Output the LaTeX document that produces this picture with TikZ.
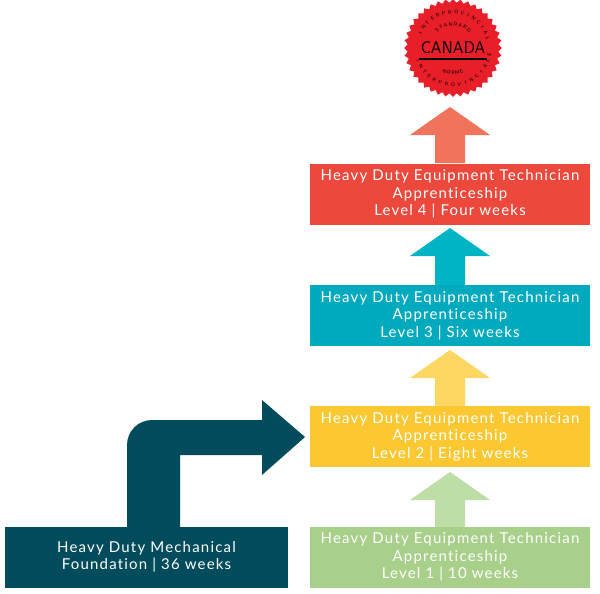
\documentclass[tikz,border=0pt]{standalone}
\usepackage{fontspec}
\setmainfont{Lato}
\usetikzlibrary{shapes.geometric,positioning}
\definecolor{lvA}{RGB}{168,208,138}
\definecolor{lvAarr}{RGB}{190,222,168}
\definecolor{lvB}{RGB}{252,200,50}
\definecolor{lvBarr}{RGB}{253,214,100}
\definecolor{lvC}{RGB}{0,170,190}
\definecolor{lvCarr}{RGB}{0,180,196}
\definecolor{lvD}{RGB}{236,72,60}
\definecolor{lvDarr}{RGB}{240,115,92}
\definecolor{found}{RGB}{0,76,92}
\definecolor{seal}{RGB}{232,30,40}
\tikzset{
  lvbox/.style={draw=none,minimum width=280pt,minimum height=61pt,align=center,text=white,font=\fontsize{15}{17.5}\selectfont\addfontfeature{LetterSpace=8,Ligatures=NoCommon}},
  sealtxt/.style={font=\sffamily\fontsize{5}{5}\selectfont,inner sep=0pt},
}
\newcommand{\uparr}[3]{% color, tip y, base y
  \fill[#1] (410,#2+28) -- (450,#2) -- (490,#2+28) -- (465,#2+28) -- (465,#3) -- (435,#3) -- (435,#2+28) -- cycle;}
\begin{document}
\begin{tikzpicture}[x=1pt,y=-1pt,line join=round]
\useasboundingbox (0,0) rectangle (600,594);
% arrows
\uparr{lvAarr}{472}{527}
\uparr{lvBarr}{350}{406}
\uparr{lvCarr}{228}{285}
\uparr{lvDarr}{107}{163}
% bent arrow
\fill[found] (127,527) -- (127,445) arc[start angle=180,end angle=270,radius=25] -- (262,420) -- (262,400) -- (305,437) -- (262,475) -- (262,455) -- (180,455) -- (180,527) -- cycle;
% boxes
\node[lvbox,fill=lvA] (lev1) at (450,557) {Heavy Duty Equipment Technician\\Apprenticeship\\Level 1 | 10 weeks};
\node[lvbox,fill=lvB] (lev2) at (450,436.5) {Heavy Duty Equipment Technician\\Apprenticeship\\Level 2 | Eight weeks};
\node[lvbox,fill=lvC] (lev3) at (450,315.5) {Heavy Duty Equipment Technician\\Apprenticeship\\Level 3 | Six weeks};
\node[lvbox,fill=lvD] (lev4) at (450,194) {Heavy Duty Equipment Technician\\Apprenticeship\\Level 4 | Four weeks};
\node[lvbox,fill=found,minimum width=283pt] (base) at (146.5,557) {Heavy Duty Mechanical\\Foundation | 36 weeks};
% seal
\node[star,star points=40,star point ratio=1.08,fill=seal,minimum size=98pt,inner sep=0pt] (sealA) at (453,48) {};
\node[font=\sffamily\fontsize{17}{17}\selectfont,inner sep=0pt] (canada) at (453,48) {CANADA};
\draw[line width=1.3pt] (419,59) -- (487,59);
\foreach \ch [count=\k] in {S,T,A,N,D,A,R,D}{
  \node[sealtxt,rotate=(144-\k*12)-90] (s\k) at ({453+24*cos(144-\k*12)},{48-24*sin(144-\k*12)}) {\ch};}
\foreach \ch [count=\k] in {I,N,T,E,R,P,R,O,V,I,N,C,I,A,L}{
  \node[sealtxt,rotate=(165-\k*10)-90] (u\k) at ({453+36*cos(165-\k*10)},{48-36*sin(165-\k*10)}) {\ch};}
\foreach \ch [count=\k] in {N,O,R,M,E}{
  \node[sealtxt,rotate=(240+\k*10)+90] (n\k) at ({453+25*cos(240+\k*10)},{48-25*sin(240+\k*10)}) {\ch};}
\foreach \ch [count=\k] in {I,N,T,E,R,P,R,O,V,I,N,C,I,A,L,E}{
  \node[sealtxt,rotate=(190+\k*10)+90] (v\k) at ({453+37*cos(190+\k*10)},{48-37*sin(190+\k*10)}) {\ch};}
\end{tikzpicture}
\end{document}
